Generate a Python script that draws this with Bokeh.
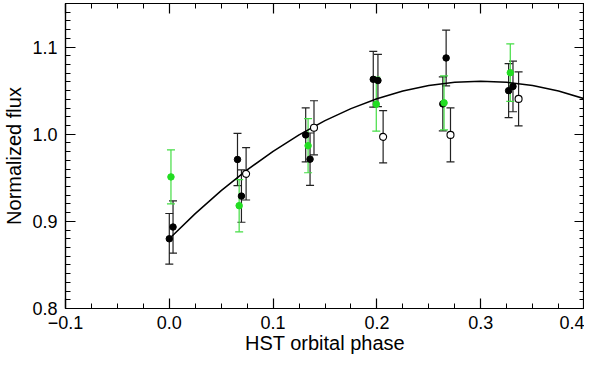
from bokeh.plotting import figure
from bokeh.models import Range1d, FixedTicker, LinearAxis, Whisker, ColumnDataSource, TeeHead
from bokeh.embed import file_html
from bokeh.resources import INLINE

# ---- data ----
phase_black = [0.0000, 0.0036, 0.0657, 0.0695, 0.1314, 0.1356, 0.1965, 0.2010, 0.2635, 0.2667, 0.3269, 0.3311]
flux_black = [0.880, 0.8935, 0.971, 0.929, 0.9992, 0.9714, 1.063, 1.0616, 1.0348, 1.0875, 1.050, 1.0548]
err_black = [0.029, 0.030, 0.030, 0.030, 0.031, 0.030, 0.032, 0.030, 0.031, 0.032, 0.031, 0.029]

phase_green = [0.0016, 0.0673, 0.1337, 0.1994, 0.2647, 0.3285]
flux_green = [0.951, 0.918, 0.9868, 1.0345, 1.036, 1.0706]
err_green = [0.031, 0.030, 0.031, 0.031, 0.031, 0.033]

phase_open = [0.0740, 0.1394, 0.2060, 0.2709, 0.3365]
flux_open = [0.9545, 1.0074, 0.997, 0.9992, 1.0405]
err_open = [0.030, 0.031, 0.030, 0.031, 0.031]

model_phase = [0.0, 0.025, 0.05, 0.075, 0.1, 0.125, 0.15, 0.175, 0.2, 0.225, 0.25,
               0.275, 0.3, 0.325, 0.35, 0.375, 0.4]
model_flux = [0.8800, 0.9089, 0.9352, 0.9591, 0.9804, 0.9993, 1.0156, 1.0294, 1.0407,
              1.0495, 1.0558, 1.0595, 1.0608, 1.0595, 1.0558, 1.0495, 1.0407]

x_ticks = [-0.1, 0.0, 0.1, 0.2, 0.3, 0.4]
x_tick_labels = ["\u22120.1", "0.0", "0.1", "0.2", "0.3", "0.4"]
y_ticks = [0.8, 0.9, 1.0, 1.1]
y_tick_labels = ["0.8", "0.9", "1.0", "1.1"]
x_title = "HST orbital phase"
y_title = "Normalized flux"

FONT = "Liberation Sans"
GREEN = "#22dd22"
GREEN_BAR = "#44dd44"
BAR = "#222222"

x_minor = [round(-0.1 + 0.025 * i, 4) for i in range(21)]
y_minor = [round(0.8 + 0.01 * i, 4) for i in range(36)]

p = figure(width=584, height=356, output_backend="svg", toolbar_location=None,
           x_range=Range1d(-0.1, 0.4), y_range=Range1d(0.8, 1.15),
           min_border_left=58, min_border_right=0, min_border_top=3, min_border_bottom=44)
p.grid.visible = False
p.outline_line_color = "black"
p.outline_line_width = 1.2
p.background_fill_color = "white"
p.border_fill_color = "white"

def style_axis(ax, ticks, minor, labels, show):
    ax.ticker = FixedTicker(ticks=ticks, minor_ticks=minor)
    ax.major_tick_in = 10
    ax.major_tick_out = 0
    ax.minor_tick_in = 5
    ax.minor_tick_out = 0
    ax.axis_line_color = "black"
    ax.axis_line_width = 1.2
    ax.major_tick_line_color = "black"
    ax.minor_tick_line_color = "black"
    ax.major_tick_line_width = 1.2
    ax.minor_tick_line_width = 1
    if show:
        ax.major_label_overrides = {t: l for t, l in zip(ticks, labels)}
        ax.major_label_text_font = FONT
        ax.major_label_text_font_size = "18px"
        ax.major_label_text_color = "black"
        ax.axis_label_text_font = FONT
        ax.axis_label_text_font_size = "20px"
        ax.axis_label_text_font_style = "normal"
        ax.axis_label_text_color = "black"
    else:
        ax.major_label_overrides = {t: "" for t in ticks}
        ax.major_label_text_font_size = "1px"
        ax.major_label_standoff = 0
        ax.axis_label_standoff = 0

xa = p.xaxis[0]
style_axis(xa, x_ticks, x_minor, x_tick_labels, True)
xa.axis_label = x_title
xa.major_label_standoff = 7
xa.axis_label_standoff = 0

ya = p.yaxis[0]
style_axis(ya, y_ticks, y_minor, y_tick_labels, True)
ya.axis_label = y_title
ya.major_label_standoff = 8
ya.axis_label_standoff = 4

top = LinearAxis()
style_axis(top, x_ticks, x_minor, x_tick_labels, False)
p.add_layout(top, "above")
right = LinearAxis()
style_axis(right, y_ticks, y_minor, y_tick_labels, False)
p.add_layout(right, "right")

def add_errors(xs, ys, es, color):
    src = ColumnDataSource(dict(x=xs, lo=[y - e for y, e in zip(ys, es)],
                                hi=[y + e for y, e in zip(ys, es)]))
    w = Whisker(source=src, base="x", lower="lo", upper="hi", dimension="height",
                line_color=color, line_width=1.2,
                upper_head=TeeHead(size=8, line_color=color, line_width=1.2),
                lower_head=TeeHead(size=8, line_color=color, line_width=1.2))
    p.add_layout(w)

add_errors(phase_black, flux_black, err_black, BAR)
add_errors(phase_open, flux_open, err_open, BAR)
add_errors(phase_green, flux_green, err_green, GREEN_BAR)

p.line(model_phase, model_flux, line_color="black", line_width=1.5)

p.scatter(phase_black, flux_black, size=6.5, fill_color="black", line_color="black")
p.scatter(phase_green, flux_green, size=6.5, fill_color=GREEN, line_color=GREEN)
p.scatter(phase_open, flux_open, size=7, fill_color="white", line_color="black", line_width=1.1)

open("out.html", "w").write(file_html(p, INLINE))
